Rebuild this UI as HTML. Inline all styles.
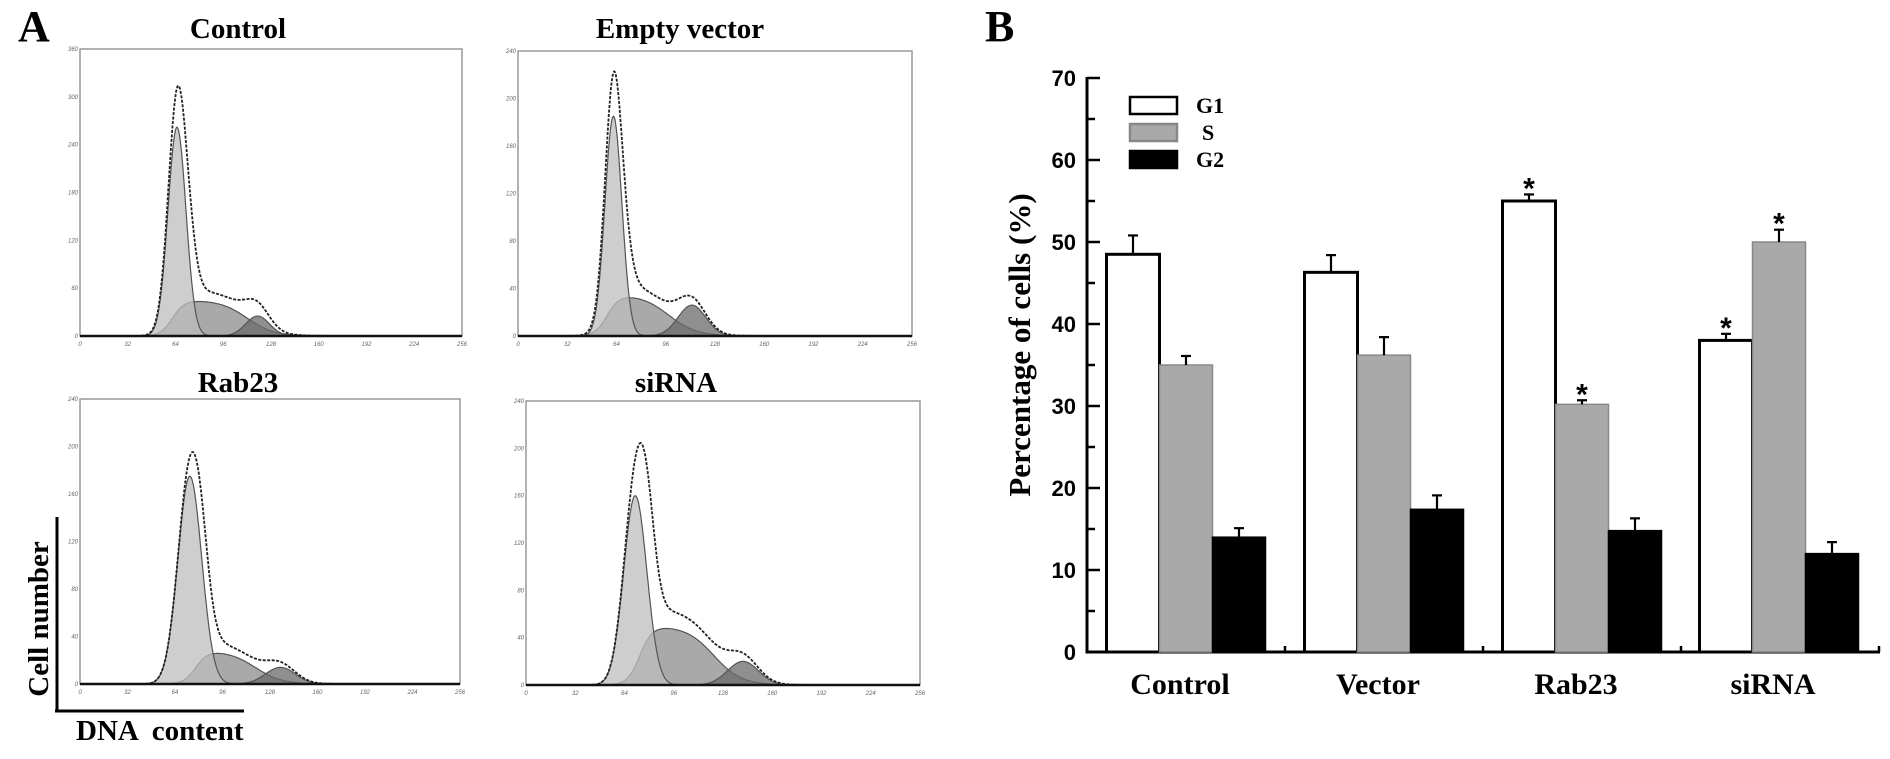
<!DOCTYPE html>
<html><head><meta charset="utf-8">
<style>
html,body{margin:0;padding:0;background:#fff;}
svg{display:block;}
.serif{font-family:"Liberation Serif",serif;font-weight:bold;}
.sans{font-family:"Liberation Sans",sans-serif;font-weight:bold;}
.tiny{font-family:"Liberation Sans",sans-serif;font-style:italic;font-size:6px;fill:#666;}
</style></head>
<body>
<svg id="fig" width="1890" height="759" viewBox="0 0 1890 759" xmlns="http://www.w3.org/2000/svg">
  <text x="18" y="41" class="serif" font-size="44">A</text>
  <text x="985" y="41" class="serif" font-size="44">B</text>
  <g id="histos"></g>
  <g>
    <line x1="57" y1="517" x2="57" y2="712" stroke="#000" stroke-width="3"/>
    <line x1="55" y1="711" x2="244" y2="711" stroke="#000" stroke-width="3"/>
    <text transform="translate(48,619) rotate(-90)" text-anchor="middle" class="serif" font-size="29">Cell number</text>
    <text x="76" y="740" class="serif" font-size="29" xml:space="preserve">DNA  content</text>
  </g>
  <g id="bars"></g>
</svg>
<script>
// ---------- Bar chart data ----------
const groups = ["Control","Vector","Rab23","siRNA"];
const g1Values = [48.5, 46.3, 55.0, 38.0];
const sValues = [35.0, 36.2, 30.2, 50.0];
const g2Values = [14.0, 17.4, 14.8, 12.0];
const g1Err = [2.3, 2.1, 0.8, 0.8];
const sErr = [1.1, 2.2, 0.5, 1.5];
const g2Err = [1.1, 1.7, 1.5, 1.4];
const g1Star = [false, false, true, true];
const sStar = [false, false, true, true];
const g2Star = [false, false, false, false];
const yTicks = [0,10,20,30,40,50,60,70];

// ---------- Histogram data (component fits per panel) ----------
const panelTitles = ["Control","Empty vector","Rab23","siRNA"];
const panelYMax = [360, 240, 240, 240];
const g1Mean = [65, 62, 74, 71];
const g1Height = [262, 185, 175, 160];
const g1Sd = [6, 5.5, 8, 7.5];
const sStart = [62, 58, 78, 74];
const sEnd = [112, 98, 118, 122];
const sHeight = [45, 35, 28, 50];
const g2Mean = [119, 113, 135, 141];
const g2Height = [25, 26, 14, 20];
const g2Sd = [8, 9, 10, 10];
const rawExtra = [35, 15, 25, 40];
const xTickLabels = [0,32,64,96,128,160,192,224,256];

const NS = "http://www.w3.org/2000/svg";
function el(tag, attrs, parent){
  const e = document.createElementNS(NS, tag);
  for (const k in attrs) e.setAttribute(k, attrs[k]);
  parent.appendChild(e);
  return e;
}

// ---------- Histograms ----------
const boxes = [[80,49,462,336],[518,51,912,336],[80,399,460,684],[526,401,920,685]];
const titlePos = [[238,38],[680,38],[238,392],[676,392]];
const hg = document.getElementById("histos");
function sig(z){return 1/(1+Math.exp(-z));}
for (let p=0;p<4;p++){
  const [L,T,R,B] = boxes[p];
  const xs = v => L + (v/256)*(R-L);
  const ys = v => B - (v/panelYMax[p])*(B-T);
  const g = el("g",{},hg);
  
  
  const t = el("text",{x:titlePos[p][0],y:titlePos[p][1],"text-anchor":"middle","class":"serif","font-size":"29"},g);
  t.textContent = panelTitles[p];
  
  
  el("rect",{x:L,y:T,width:R-L,height:B-T,fill:"#fff",stroke:"#999","stroke-width":"1.5"},g);
  const f1 = v => g1Height[p]*Math.exp(-0.5*Math.pow((v-g1Mean[p])/g1Sd[p],2));
  const fs = v => sHeight[p]*sig((v-sStart[p])/4)*sig((sEnd[p]-v)/9);
  const f2 = v => g2Height[p]*Math.exp(-0.5*Math.pow((v-g2Mean[p])/g2Sd[p],2));
  const fr = v => f1(v)+fs(v)+f2(v) + rawExtra[p]*Math.exp(-0.5*Math.pow((v-g1Mean[p]-8)/5,2)) + 0.3*fs(v);
  function area(f, fill, name){
    let d = "M"+xs(20)+","+B;
    for (let v=20; v<=200; v+=0.5) d += " L"+xs(v).toFixed(1)+","+ys(f(v)).toFixed(1);
    d += " L"+xs(200)+","+B+" Z";
    const a = el("path",{d:d,fill:fill,stroke:"#555","stroke-width":"1.2","fill-opacity":"0.75"},g);
    
    
  }
  area(fs, "#8c8c8c", "s-phase-fit");
  area(f1, "#bdbdbd", "g1-phase-fit");
  area(f2, "#6a6a6a", "g2-phase-fit");
  let d = "";
  for (let v=20; v<=200; v+=0.5) d += (v===20?"M":" L")+xs(v).toFixed(1)+","+ys(fr(v)).toFixed(1);
  const rl = el("path",{d:d,fill:"none",stroke:"#222","stroke-width":"1.8","stroke-dasharray":"3,1.5"},g);
  
  
  el("line",{x1:L,y1:B,x2:R,y2:B,stroke:"#111","stroke-width":"2.5"},g);
  xTickLabels.forEach(v=>{
    const tx = el("text",{x:xs(v),y:B+10,"text-anchor":"middle","class":"tiny"},g);
    tx.textContent = v;
  });
  const step = panelYMax[p]/6;
  for (let k=0;k<=6;k++){
    const v=k*step;
    const ty = el("text",{x:L-2,y:ys(v)+2,"text-anchor":"end","class":"tiny"},g);
    ty.textContent = v;
  }
}

// ---------- Bar chart ----------
const bg = document.getElementById("bars");
const axX = 1087, axY0 = 652, pxPerUnit = 8.2, barW = 53;
const groupCenters = [1186,1384,1582,1779];
const yScale = v => axY0 - v*pxPerUnit;
el("line",{x1:axX,y1:yScale(70)-1,x2:axX,y2:axY0+1.5,stroke:"#000","stroke-width":"3"},bg);
el("line",{x1:axX,y1:axY0,x2:1880,y2:axY0,stroke:"#000","stroke-width":"3"},bg);
for (let v=0; v<=70; v+=5){
  const major = v%10===0;
  el("line",{x1:axX,y1:yScale(v),x2:axX+(major?13:8),y2:yScale(v),stroke:"#000","stroke-width":"2.5"},bg);
}
yTicks.forEach(v=>{
  const t = el("text",{x:1076,y:yScale(v)+8,"text-anchor":"end","class":"sans","font-size":"22"},bg);
  t.textContent = v;
  
  
});
for (let k=0;k<8;k++){
  const x = 1186 + k*99;
  el("line",{x1:x,y1:axY0,x2:x,y2:axY0-(k%2===0?12:6),stroke:"#000","stroke-width":"2.5"},bg);
}
const yl = el("text",{transform:"translate(1030,345) rotate(-90)","text-anchor":"middle","class":"serif","font-size":"31"},bg);
yl.textContent = "Percentage of cells (%)";



const series = [
  {vals:g1Values, err:g1Err, star:g1Star, fill:"#fff", stroke:"#000", sw:3, off:-1.5, name:"g1"},
  {vals:sValues, err:sErr, star:sStar, fill:"#a9a9a9", stroke:"#888", sw:1.5, off:-0.5, name:"s"},
  {vals:g2Values, err:g2Err, star:g2Star, fill:"#000", stroke:"#000", sw:1.5, off:0.5, name:"g2"}
];
groups.forEach((gname,i)=>{
  series.forEach(s=>{
    const x = groupCenters[i] + s.off*barW;
    const top = yScale(s.vals[i]);
    const r = el("rect",{x:x,y:top,width:barW,height:axY0-top,fill:s.fill,stroke:s.stroke,"stroke-width":s.sw},bg);
    
    
    const cx = x + barW/2, et = yScale(s.vals[i]+s.err[i]);
    el("line",{x1:cx,y1:top,x2:cx,y2:et,stroke:"#000","stroke-width":"2.2"},bg);
    el("line",{x1:cx-5,y1:et,x2:cx+5,y2:et,stroke:"#000","stroke-width":"2.2"},bg);
    if (s.star[i]){
      const st = el("text",{x:cx,y:et+4,"text-anchor":"middle","class":"sans","font-size":"30"},bg);
      st.textContent = "*";
      
      
    }
  });
  const lab = el("text",{x:groupCenters[i]-6,y:694,"text-anchor":"middle","class":"serif","font-size":"30"},bg);
  lab.textContent = gname;
  
  
});
const legItems = [["G1","#fff","#000",97],["S","#a9a9a9","#888",124],["G2","#000","#000",151]];
legItems.forEach(li=>{
  const r = el("rect",{x:1130,y:li[3],width:47,height:17,fill:li[1],stroke:li[2],"stroke-width":"2.5"},bg);
  
  
  const t = el("text",{x:li[0]==="S"?1202:1196,y:li[3]+16,"class":"serif","font-size":"22"},bg);
  t.textContent = li[0];
  
  
});
</script>
</body></html>
